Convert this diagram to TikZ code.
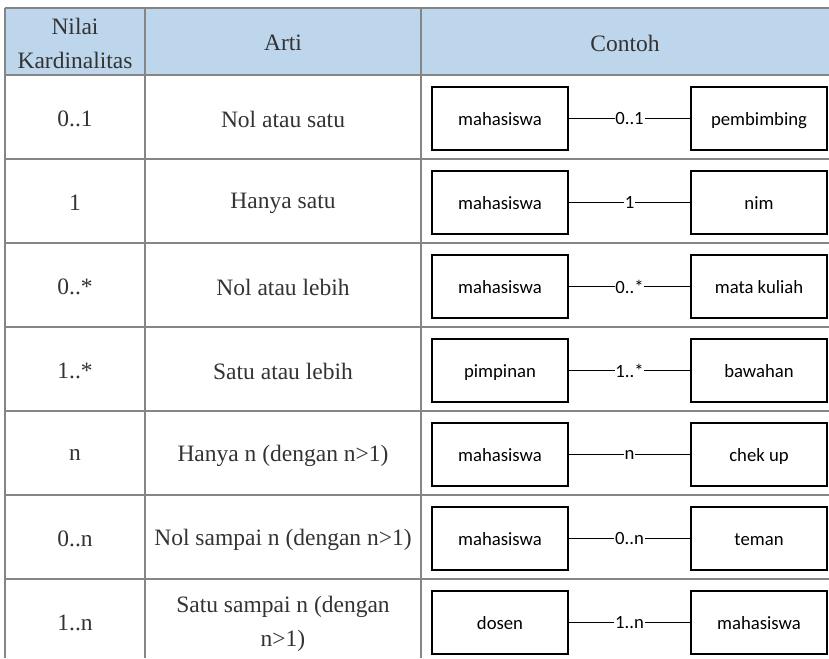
\documentclass[tikz,border=0pt]{standalone}
\usepackage{fontspec}
\setmainfont{Liberation Serif}
\newfontfamily\boxfont{Carlito}
\definecolor{headfill}{HTML}{BED6EC}
\definecolor{gridline}{HTML}{858585}
\definecolor{celltext}{HTML}{333333}
\tikzset{
  cell/.style={align=center, text=celltext, font=\fontsize{23.5}{34}\selectfont, inner sep=0pt},
  entity/.style={draw=black, line width=1.3pt, minimum width=136pt, minimum height=63pt,
                 inner sep=0pt, text height=13pt, text depth=0pt,
                 font=\boxfont\fontsize{18.7}{22}\selectfont},
  link/.style={line width=1.3pt, draw=black},
  card/.style={fill=white, inner xsep=0.8pt, inner ysep=0pt, font=\boxfont\fontsize{18.7}{22}\selectfont},
  grid/.style={draw=gridline, line width=1.3pt}
}
\begin{document}
\begin{tikzpicture}[x=1pt,y=-1pt]
\useasboundingbox (0,0) rectangle (829,658);
\fill[white] (0,0) rectangle (829,658);
% header band
\fill[headfill] (5,8) rectangle (829,75);
% grid lines
\draw[grid] (5,8) -- (829,8);
\foreach \y in {75,159,243,327,411,495,579} \draw[grid] (5,\y) -- (829,\y);
\foreach \x in {5,145,421} \draw[grid] (\x,8) -- (\x,658);
% header texts
\node[cell] (h1) at (75,43) {Nilai\\Kardinalitas};
\node[cell] (h2) at (283,43) {Arti};
\node[cell] (h3) at (625,43) {Contoh};
% rows: value, meaning, left entity, cardinality, right entity
\foreach \i/\v/\m/\a/\c/\b in {
  1/0..1/Nol atau satu/mahasiswa/0..1/pembimbing,
  2/1/Hanya satu/mahasiswa/1/nim,
  3/0..*/Nol atau lebih/mahasiswa/0..*/mata kuliah,
  4/1..*/Satu atau lebih/pimpinan/1..*/bawahan,
  5/n/Hanya n (dengan n>1)/mahasiswa/n/chek up,
  6/0..n/Nol sampai n (dengan n>1)/mahasiswa/0..n/teman,
  7/1..n/{Satu sampai n (dengan\\n>1)}/dosen/1..n/mahasiswa}{
  \pgfmathsetmacro{\rowtop}{75+84*(\i-1)}
  \node[cell] (v\i) at (75,\rowtop+44) {\v};
  \node[cell] (m\i) at (283,\rowtop+44.5) {\m};
  \node[entity] (a\i) at (500,\rowtop+43.5) {\a};
  \node[entity] (b\i) at (759,\rowtop+43.5) {\b};
  \draw[link] (a\i) -- node[card] {\c} (b\i);
}
\end{tikzpicture}
\end{document}
